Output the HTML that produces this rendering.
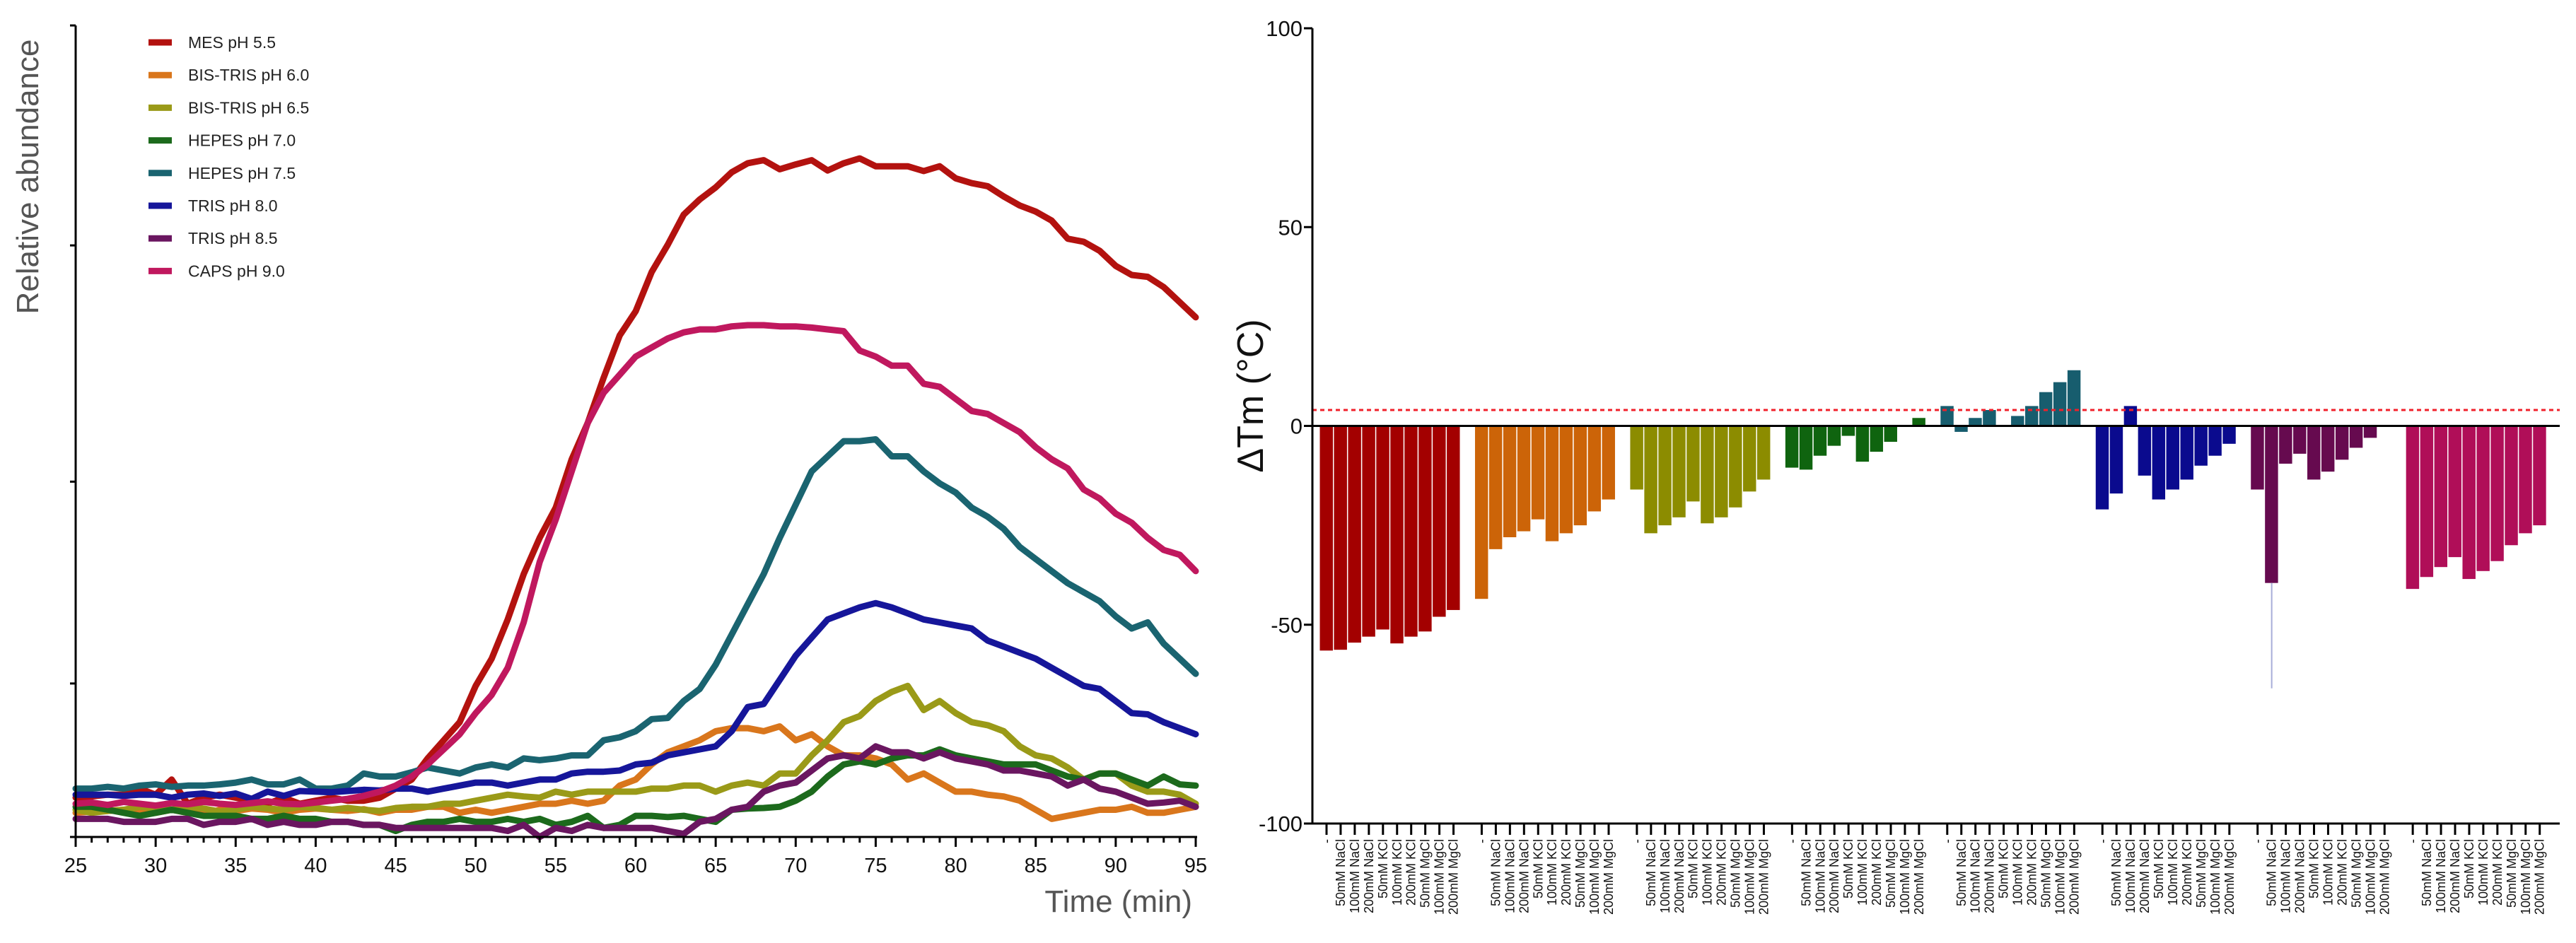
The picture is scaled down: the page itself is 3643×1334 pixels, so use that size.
<!DOCTYPE html>
<html><head><meta charset="utf-8"><style>
html,body{margin:0;padding:0;background:#fff;}
svg{display:block;font-family:"Liberation Sans",sans-serif;}
</style></head><body>
<svg id="chart" width="3643" height="1334" viewBox="0 0 3643 1334" xmlns="http://www.w3.org/2000/svg">
<g id="left"></g>
<g id="right"></g>
</svg>
<script>
// ---------- Left chart data ----------
const times = [];
for (let t = 25; t <= 95; t++) times.push(t);
const seriesNames = ["MES pH 5.5","BIS-TRIS pH 6.0","BIS-TRIS pH 6.5","HEPES pH 7.0","HEPES pH 7.5","TRIS pH 8.0","TRIS pH 8.5","CAPS pH 9.0"];
const seriesColors = ["#b3120f","#d9761c","#9a9a18","#1c6a1c","#1a6470","#16169a","#6a1660","#c0185e"];
const mes = [6.5,6.7,7,7,8,7,9.5,5.5,6.5,7,6.5,6,5.5,6.5,5.5,6,6.5,6,6,6.5,8,9.5,13,16,19,25,29.5,36,43.5,49.5,54.5,62.5,68.5,76,83,87,93.5,98,103,105.5,107.5,110,111.5,112,110.5,111.3,112,110.3,111.5,112.3,111,111,111,110.2,111,109,108.2,107.7,106,104.5,103.5,102,99,98.5,97,94.5,93,92.7,91,88.5,86];
const bis60 = [4,4.2,4.3,4.5,4.2,4,4.5,4,3.8,4.5,4.3,4.7,4.5,4,4.5,4.7,4.5,4.3,4.6,4,4.5,4.5,5,5,4,4.5,4,4.5,5,5.5,5.5,6,5.5,6,8.5,9.5,12,14,15,16,17.5,18,18,17.5,18.3,16,17,15,13.5,13.5,13,12,9.5,10.5,9,7.5,7.5,7,6.7,6,4.5,3,3.5,4,4.5,4.5,5,4,4,4.5,5];
const bis65 = [4.5,4,4.3,4.5,5,4.8,4.5,5,4.7,4.2,4.5,5,4.7,4.5,5,4.8,4.5,4.8,4.5,4.3,4.8,5,5,5.5,5.5,6,6.5,7,6.7,6.5,7.5,7,7.5,7.5,7.5,7.5,8,8,8.5,8.5,7.5,8.5,9,8.5,10.5,10.5,13.5,16,19,20,22.5,24,25,21,22.5,20.5,19,18.5,17.5,15,13.5,13,11.5,9.5,10.5,10.5,8.5,7.5,7.5,7,5.5];
const hepes70 = [5,5,4.5,4,3.5,4,4.5,4,3.5,3.5,3.5,3,3,3.5,3,3,2.5,2.5,2,2,1,2,2.5,2.5,3,2.5,2.5,3,2.5,3,2,2.5,3.5,1.5,2,3.5,3.5,3.3,3.5,3,2.5,4.5,4.7,4.8,5,6,7.5,10,12,12.5,12,13,13.5,13.5,14.5,13.5,13,12.5,12,12,12,11,10,9.5,10.5,10.5,9.5,8.5,10,8.7,8.5];
const hepes75 = [8,8,8.3,8,8.5,8.7,8.3,8.5,8.5,8.7,9,9.5,8.7,8.7,9.5,8,8,8.5,10.5,10,10,10.7,11.5,11,10.5,11.5,12,11.5,13,12.7,13,13.5,13.5,16,16.5,17.5,19.5,19.7,22.5,24.5,28.5,33.5,38.5,43.5,49.5,55,60.5,63,65.5,65.5,65.8,63,63,60.5,58.5,57,54.5,53,51,48,46,44,42,40.5,39,36.5,34.5,35.5,32,29.5,27];
const tris80 = [7,7,7,6.8,7,7,6.5,7,7.2,6.8,7.2,6.3,7.5,6.8,7.6,7.5,7.4,7.6,7.8,7.7,8,8,7.5,8,8.5,9,9,8.5,9,9.5,9.5,10.5,10.8,10.8,11,12,12.3,13.5,14,14.5,15,17.5,21.5,22,26,30,33,36,37,38,38.7,38,37,36,35.5,35,34.5,32.5,31.5,30.5,29.5,28,26.5,25,24.5,22.5,20.5,20.3,19,18,17];
const tris85 = [3,3,3,2.5,2.5,2.5,3,3,2,2.5,2.5,3,2,2.5,2,2,2.5,2.5,2,2,1.5,1.5,1.5,1.5,1.5,1.5,1.5,1,2,0,1.5,1,2,1.5,1.5,1.5,1.5,1,0.5,2.5,3,4.5,5,7.5,8.5,9,11,13,13.5,13,15,14,14,13,14,13,12.5,12,11,11,10.5,10,8.5,9.5,8,7.5,6.5,5.5,5.7,6,5];
const caps90 = [5.5,5.7,5.3,5.8,5.5,5.2,5.6,5.4,5.8,5.5,5.3,5.6,5.9,5.5,5.4,5.7,6,6.3,6.8,7.5,8.5,10,12,14.5,17,20.5,23.5,28,35.5,45.5,52.5,60.5,68.5,73.5,76.5,79.5,81,82.5,83.5,84,84,84.5,84.7,84.7,84.5,84.5,84.3,84,83.7,80.5,79.5,78,78,75,74.5,72.5,70.5,70,68.5,67,64.5,62.5,61,57.5,56,53.5,52,49.5,47.5,46.7,44];
const allSeries = [mes,bis60,bis65,hepes70,hepes75,tris80,tris85,caps90];
const xTicks = [25,30,35,40,45,50,55,60,65,70,75,80,85,90,95];
const yTicksLeft = [0,25.4,58.8,97.9,134.3];

// ---------- Right chart data ----------
const groupColors = ["#a30000","#cc6408","#8c8c00","#0f640f","#175d6e","#0a0a8e","#660a4f","#b00e58"];
const saltLabels = ["-","50mM NaCl","100mM NaCl","200mM NaCl","50mM KCl","100mM KCl","200mM KCl","50mM MgCl","100mM MgCl","200mM MgCl"];
const dtmMES = [-56.5,-56.3,-54.5,-53,-51.2,-54.7,-53,-51.7,-48,-46.3];
const dtmBis60 = [-43.5,-31,-28,-26.5,-23.5,-29,-27,-25,-21.5,-18.5];
const dtmBis65 = [-16,-27,-25,-23,-19,-24.5,-23,-20.5,-16.5,-13.5];
const dtmHepes70 = [-10.5,-11,-7.5,-5,-2.5,-9,-6.5,-4,0,2];
const dtmHepes75 = [5,-1.5,2,4,0,2.5,5,8.5,11,14];
const dtmTris80 = [-21,-17,5,-12.5,-18.5,-16,-13.5,-10,-7.5,-4.5];
const dtmTris85 = [-16,-39.5,-9.5,-7,-13.5,-11.5,-8.5,-5.5,-3,0];
const dtmCaps = [-41,-38,-35.5,-33,-38.5,-36.5,-34,-30,-27,-25];
const dtmGroups = [dtmMES,dtmBis60,dtmBis65,dtmHepes70,dtmHepes75,dtmTris80,dtmTris85,dtmCaps];
const errGroup = 6, errIndex = 1, errLow = -66;
const threshold = 4;
const yTicksRight = [100,50,0,-50,-100];

const NS = "http://www.w3.org/2000/svg";
function mk(tag, attrs, parent, text){
  const e = document.createElementNS(NS, tag);
  for (const k in attrs) e.setAttribute(k, attrs[k]);
  if (text !== undefined) e.textContent = text;
  parent.appendChild(e);
  return e;
}

// ---------- Left chart ----------
const L = document.getElementById('left');
const lx0 = 107, lx1 = 1691, ly0 = 1184, ly1 = 36;
const xL = t => lx0 + (t - 25) / 70 * (lx1 - lx0);
const yL = v => ly0 - v / 134.3 * (ly0 - ly1);

allSeries.forEach((s, i) => {
  const d = s.map((v, k) => (k ? 'L' : 'M') + xL(times[k]).toFixed(1) + ',' + yL(v).toFixed(1)).join(' ');
  const p = mk('path', {d: d, fill: 'none', stroke: seriesColors[i], 'stroke-width': 9, 'stroke-linejoin': 'round', 'stroke-linecap': 'round'}, L);
  
  
});

const lax = mk('line', {x1: lx0, y1: ly1, x2: lx0, y2: ly0 + 2, stroke: '#000', 'stroke-width': 3}, L);


const lxa = mk('line', {x1: lx0, y1: ly0, x2: lx1 + 2, y2: ly0, stroke: '#000', 'stroke-width': 3}, L);


yTicksLeft.forEach(v => {
  const tk = mk('line', {x1: lx0 - 8, y1: yL(v), x2: lx0, y2: yL(v), stroke: '#000', 'stroke-width': 3}, L);
  
  
});
for (let t = 25; t <= 95; t++) {
  const major = t % 5 === 0;
  const tk = mk('line', {x1: xL(t), y1: ly0, x2: xL(t), y2: ly0 + (major ? 14 : 8), stroke: '#000', 'stroke-width': 3}, L);
  
  
}
xTicks.forEach(t => {
  const tx = mk('text', {x: xL(t), y: ly0 + 50, 'text-anchor': 'middle', 'font-size': 29, fill: '#111'}, L, String(t));
  
  
});
const xt = mk('text', {x: 1686, y: 1290, 'text-anchor': 'end', 'font-size': 44, fill: '#555'}, L, 'Time (min)');


const yt = mk('text', {x: 0, y: 0, 'text-anchor': 'middle', 'font-size': 44, fill: '#555', transform: 'translate(54,250) rotate(-90)'}, L, 'Relative abundance');



seriesNames.forEach((n, i) => {
  const g = mk('g', {}, L);
  
  
  const y = 60 + i * 46.2;
  mk('line', {x1: 210, y1: y, x2: 243, y2: y, stroke: seriesColors[i], 'stroke-width': 9}, g);
  mk('text', {x: 266, y: y + 8, 'font-size': 23, fill: '#222'}, g, n);
});

// ---------- Right chart ----------
const R = document.getElementById('right');
const rx0 = 1856, rx1 = 3620, ry1 = 40, ry0 = 1165;
const yR = v => ry1 + (100 - v) / 200 * (ry0 - ry1);
const slot = 19.95, firstX = 1876;
const xR = (g, j) => firstX + (g * 11 + j) * slot;

dtmGroups.forEach((vals, g) => {
  vals.forEach((v, j) => {
    const x = xR(g, j), y0 = yR(0), y = yR(v);
    const r = mk('rect', {x: x - slot / 2 + 0.5, y: Math.min(y0, y), width: slot - 1.5, height: Math.max(Math.abs(y - y0), 0.5), fill: groupColors[g]}, R);
    
    
  });
});
const eb = mk('line', {x1: xR(errGroup, errIndex), y1: yR(dtmGroups[errGroup][errIndex]), x2: xR(errGroup, errIndex), y2: yR(errLow), stroke: '#a8aed8', 'stroke-width': 2}, R);



const zl = mk('line', {x1: rx0, y1: yR(0), x2: rx1, y2: yR(0), stroke: '#000', 'stroke-width': 3}, R);


const th = mk('line', {x1: rx0, y1: yR(threshold), x2: rx1, y2: yR(threshold), stroke: '#f0202a', 'stroke-width': 3, 'stroke-dasharray': '6,5'}, R);



const ray = mk('line', {x1: rx0, y1: ry1, x2: rx0, y2: ry0, stroke: '#000', 'stroke-width': 3}, R);


const rxa = mk('line', {x1: rx0 - 12, y1: ry0, x2: rx1, y2: ry0, stroke: '#000', 'stroke-width': 3}, R);


yTicksRight.forEach(v => {
  const tk = mk('line', {x1: rx0 - 12, y1: yR(v), x2: rx0, y2: yR(v), stroke: '#000', 'stroke-width': 3}, R);
  
  
  const tl = mk('text', {x: rx0 - 14, y: yR(v) + 11, 'text-anchor': 'end', 'font-size': 31, fill: '#111'}, R, String(v));
  
  
});
const rt = mk('text', {x: 0, y: 0, 'text-anchor': 'middle', 'font-size': 52, fill: '#111', transform: 'translate(1786,560) rotate(-90)'}, R, 'ΔTm (°C)');



dtmGroups.forEach((vals, g) => {
  saltLabels.forEach((lab, j) => {
    const x = xR(g, j);
    const tk = mk('line', {x1: x, y1: ry0, x2: x, y2: ry0 + 16, stroke: '#000', 'stroke-width': 3}, R);
    
    
    const tl = mk('text', {x: 0, y: 0, 'text-anchor': 'end', 'font-size': 18, fill: '#111', transform: 'translate(' + (x + 6) + ',' + (ry0 + 22) + ') rotate(-90)'}, R, lab);
    
    
  });
});
</script>
</body></html>
